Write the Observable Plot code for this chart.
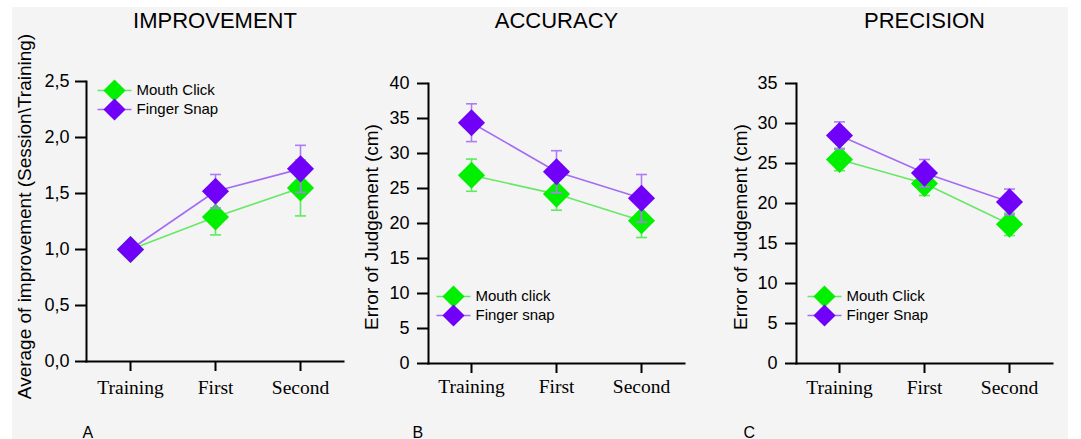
<!DOCTYPE html>
<html><head><meta charset="utf-8">
<script src="https://cdn.jsdelivr.net/npm/d3@7"></script>
<script src="https://cdn.jsdelivr.net/npm/@observablehq/plot@0.6"></script>
<style>
body{margin:0;background:#fff;width:1081px;height:439px;position:relative;overflow:hidden;font-family:"Liberation Sans",Arial,sans-serif}
#bg{position:absolute;left:12px;top:7px;width:1056px;height:432px;background:#f4f4f4}
.panel{position:absolute;top:0}
</style></head><body><div id="bg"></div>
<script>
// ---- data ----
const sessions = ["Training", "First", "Second"];

const improvementMouth = [1.0, 1.29, 1.55];
const improvementMouthErr = [0, 0.16, 0.25];
const improvementSnap = [1.0, 1.52, 1.72];
const improvementSnapErr = [0, 0.15, 0.21];
const improvementTicks = [0, 0.5, 1.0, 1.5, 2.0, 2.5];
const improvementLegend = ["Mouth Click", "Finger Snap"];

const accuracyMouth = [26.9, 24.2, 20.4];
const accuracyMouthErr = [2.3, 2.3, 2.4];
const accuracySnap = [34.4, 27.4, 23.6];
const accuracySnapErr = [2.7, 3.0, 3.4];
const accuracyTicks = [0, 5, 10, 15, 20, 25, 30, 35, 40];
const accuracyLegend = ["Mouth click", "Finger snap"];

const precisionMouth = [25.5, 22.5, 17.4];
const precisionMouthErr = [1.4, 1.5, 1.4];
const precisionSnap = [28.5, 23.8, 20.2];
const precisionSnapErr = [1.7, 1.7, 1.6];
const precisionTicks = [0, 5, 10, 15, 20, 25, 30, 35];
const precisionLegend = ["Mouth Click", "Finger Snap"];

// ---- styles ----
const fillColors = ["#00f000", "#7000f8"];
const lineColors = ["#66e866", "#a46cf2"];
const errColors = ["#5cec5c", "#ae7cf6"];
const SANS = "Liberation Sans, Arial, sans-serif";
const SERIF = "Liberation Serif, Times New Roman, serif";

const hSymbol = half => ({draw(ctx) { ctx.moveTo(-half, 0); ctx.lineTo(half, 0); }});
const lineSymbol = hSymbol(17);
const capSymbol = hSymbol(5.5);

function panel(cfg) {
  const series = cfg.series.map((s, k) =>
    s.values.map((v, i) => ({k, session: sessions[i], value: v, err: s.errs[i], lo: v - s.errs[i], hi: v + s.errs[i]})));
  const frameMid = (cfg.mt + (439 - cfg.mb)) / 2;
  const marks = [
    Plot.frame({anchor: "left", strokeWidth: 2}),
    Plot.frame({anchor: "bottom", strokeWidth: 2}),
    Plot.axisY({ticks: cfg.ticks, tickSize: 11, tickPadding: cfg.yPad, strokeWidth: 2, fontSize: 18,
      fontFamily: SANS, tickFormat: cfg.fmt, label: null}),
    Plot.axisX({tickSize: 10, tickPadding: cfg.xPad, strokeWidth: 2, fontSize: 19.5, fontFamily: SERIF, label: null}),
    Plot.text([cfg.title], {frameAnchor: "top", textAnchor: "middle", lineAnchor: "bottom", dy: 27 - cfg.mt, fontSize: 22, fontFamily: SANS}),
    Plot.text([cfg.ylabel], {frameAnchor: "left", textAnchor: "middle", rotate: -90, lineAnchor: "middle", dx: cfg.ylx - cfg.ml,
      dy: cfg.yly - frameMid, fontSize: 19, fontFamily: SANS}),
    Plot.text([cfg.letter], {frameAnchor: "bottom-left", textAnchor: "start", lineAnchor: "bottom",
      dx: cfg.letterX - cfg.ml, dy: 437 - (439 - cfg.mb), fontSize: 16, fontFamily: SANS})
  ];
  series.forEach((rows, k) => {
    const withErr = rows.filter(d => d.err > 0);
    marks.push(
      Plot.line(rows, {x: "session", y: "value", stroke: lineColors[k], strokeWidth: 1.6}),
      Plot.ruleX(withErr, {x: "session", y1: "lo", y2: "hi", stroke: errColors[k], strokeWidth: 1.6}),
      Plot.dot(withErr, {x: "session", y: "lo", symbol: capSymbol, r: 1, stroke: errColors[k], strokeWidth: 1.6, fill: "none"}),
      Plot.dot(withErr, {x: "session", y: "hi", symbol: capSymbol, r: 1, stroke: errColors[k], strokeWidth: 1.6, fill: "none"}),
      Plot.dot(rows, {x: "session", y: "value", symbol: "diamond2", r: 12.2, fill: fillColors[k], stroke: "none"})
    );
  });
  // legend
  cfg.legend.forEach((name, k) => {
    const dy = cfg.legY - cfg.mt + k * 19;
    marks.push(
      Plot.dot([name], {frameAnchor: "top-left", dx: cfg.legX - cfg.ml, dy, symbol: lineSymbol, r: 1,
        stroke: lineColors[k], strokeWidth: 1.6, fill: "none"}),
      Plot.dot([name], {frameAnchor: "top-left", dx: cfg.legX - cfg.ml, dy, symbol: "diamond2", r: 10,
        fill: fillColors[k], stroke: "none"}),
      Plot.text([name], {frameAnchor: "top-left", dx: cfg.legX - cfg.ml + 22, dy, textAnchor: "start",
        lineAnchor: "middle", fontSize: 15, fontFamily: SANS})
    );
  });
  const svg = Plot.plot({
    width: cfg.w, height: 439,
    marginTop: cfg.mt, marginBottom: cfg.mb, marginLeft: cfg.ml, marginRight: cfg.mr,
    x: {type: "point", domain: sessions, padding: 0.5},
    y: {domain: [0, cfg.ticks[cfg.ticks.length - 1]]},
    style: {background: "none", overflow: "visible", maxWidth: "none", color: "#000", fontFamily: SANS},
    marks
  });
  svg.classList.add("panel");
  svg.style.left = cfg.left + "px";
  svg.style.position = "absolute";
  svg.style.top = "0px";
  document.body.appendChild(svg);
}

const comma1 = d => d.toFixed(1).replace(".", ",");

panel({left: 0, w: 360, mt: 81, mb: 78, ml: 86, mr: 17, yPad: 6, xPad: 8.5,
  title: "IMPROVEMENT", ylabel: "Average of improvement (Session\\Training)", ylx: 24, yly: 216,
  letter: "A", letterX: 82, ticks: improvementTicks, fmt: comma1,
  series: [{values: improvementMouth, errs: improvementMouthErr}, {values: improvementSnap, errs: improvementSnapErr}],
  legend: improvementLegend, legX: 114, legY: 90});

panel({left: 360, w: 360, mt: 83, mb: 76, ml: 68, mr: 36, yPad: 8, xPad: 5.5,
  title: "ACCURACY", ylabel: "Error of Judgement (cm)", ylx: 11.7, yly: 226.5,
  letter: "B", letterX: 52, ticks: accuracyTicks, fmt: d => String(d),
  series: [{values: accuracyMouth, errs: accuracyMouthErr}, {values: accuracySnap, errs: accuracySnapErr}],
  legend: accuracyLegend, legX: 93, legY: 296});

panel({left: 720, w: 361, mt: 83, mb: 76, ml: 76, mr: 29, yPad: 8, xPad: 6.4,
  title: "PRECISION", ylabel: "Error of Judgement (cm)", ylx: 20.7, yly: 226.5,
  letter: "C", letterX: 23, ticks: precisionTicks, fmt: d => String(d),
  series: [{values: precisionMouth, errs: precisionMouthErr}, {values: precisionSnap, errs: precisionSnapErr}],
  legend: precisionLegend, legX: 104, legY: 296});
</script>
</body></html>
